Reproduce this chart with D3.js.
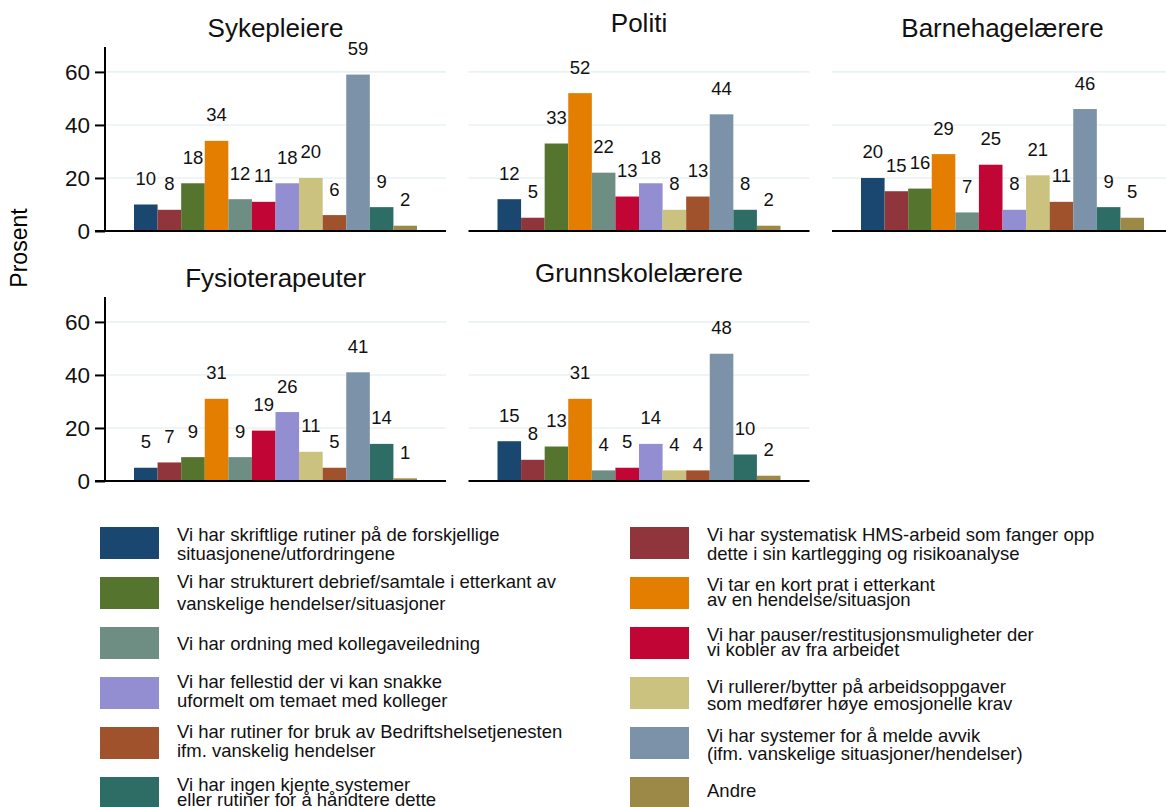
<!DOCTYPE html>
<html>
<head>
<meta charset="utf-8">
<script src="https://cdn.jsdelivr.net/npm/d3@7"></script>
<style>
  body { margin: 0; background: #fff; }
  svg { display: block; font-family: "Liberation Sans", Arial, sans-serif; }
</style>
</head>
<body>
<div id="chart"></div>
<script>
// ---- data ----
const groups = ["Sykepleiere", "Politi", "Barnehagelærere", "Fysioterapeuter", "Grunnskolelærere"];

const sykepleiere      = [10, 8, 18, 34, 12, 11, 18, 20, 6, 59, 9, 2];
const politi           = [12, 5, 33, 52, 22, 13, 18, 8, 13, 44, 8, 2];
const barnehagelaerere = [20, 15, 16, 29, 7, 25, 8, 21, 11, 46, 9, 5];
const fysioterapeuter  = [5, 7, 9, 31, 9, 19, 26, 11, 5, 41, 14, 1];
const grunnskolelaerere = [15, 8, 13, 31, 4, 5, 14, 4, 4, 48, 10, 2];

const categories = [
    ["Vi har skriftlige rutiner på de forskjellige", "situasjonene/utfordringene"],
    ["Vi har systematisk HMS-arbeid som fanger opp", "dette i sin kartlegging og risikoanalyse"],
    ["Vi har strukturert debrief/samtale i etterkant av", "vanskelige hendelser/situasjoner"],
    ["Vi tar en kort prat i etterkant", "av en hendelse/situasjon"],
    ["Vi har ordning med kollegaveiledning"],
    ["Vi har pauser/restitusjonsmuligheter der", "vi kobler av fra arbeidet"],
    ["Vi har fellestid der vi kan snakke", "uformelt om temaet med kolleger"],
    ["Vi rullerer/bytter på arbeidsoppgaver", "som medfører høye emosjonelle krav"],
    ["Vi har rutiner for bruk av Bedriftshelsetjenesten", "ifm. vanskelig hendelser"],
    ["Vi har systemer for å melde avvik", "(ifm. vanskelige situasjoner/hendelser)"],
    ["Vi har ingen kjente systemer", "eller rutiner for å håndtere dette"],
    ["Andre"]
];

const yTicks = [0, 20, 40, 60];

const seriesByGroup = [sykepleiere, politi, barnehagelaerere, fysioterapeuter, grunnskolelaerere];

// ---- style ----
const palette = ["#1a476f", "#90353b", "#55752f", "#e37e00", "#6e8e84", "#c10534",
                 "#938dd2", "#cac27e", "#a0522d", "#7b92a8", "#2d6d66", "#9c8847"];
const color = d3.scaleOrdinal().domain(d3.range(categories.length)).range(palette);

const W = 1166, H = 807;
const panel = { left: 105, pitchX: 363.5, pitchY: 250, width: 341, height: 184, base: 231, inset: 29 };
const yMax = 69.4;
// legend baseline offsets (from swatch top) for each entry's lines
const legendLines = [[14, 33], [14, 33], [10.5, 33], [14, 29], [23], [14, 29],
                     [10.5, 30], [15.5, 33], [11, 30], [15, 33], [14, 29], [19.5]];

const svg = d3.select("#chart").append("svg")
    .attr("width", W).attr("height", H);

// y axis title
svg.append("text")
    .attr("transform", "translate(27,248) rotate(-90)")
    .attr("text-anchor", "middle")
    .attr("font-size", 23)
    .text("Prosent");

groups.forEach((g, gi) => {
    const col = gi % 3, row = Math.floor(gi / 3);
    const x0 = panel.left + col * panel.pitchX;
    const y0 = panel.base + row * panel.pitchY;
    const vals = seriesByGroup[gi];

    const x = d3.scaleBand()
        .domain(d3.range(vals.length))
        .range([x0 + panel.inset, x0 + panel.width - panel.inset])
        .padding(0);
    const y = d3.scaleLinear().domain([0, yMax]).range([y0, y0 - panel.height]);

    const p = svg.append("g");

    // gridlines
    p.selectAll(".grid")
        .data(yTicks)
        .join("line")
        .attr("x1", x0).attr("x2", x0 + panel.width)
        .attr("y1", d => y(d)).attr("y2", d => y(d))
        .attr("stroke", "#eaf2f3")
        .attr("stroke-width", 1.6);

    // bars
    p.selectAll("rect")
        .data(vals)
        .join("rect")
        .attr("x", (d, i) => x(i))
        .attr("width", x.bandwidth())
        .attr("y", d => y(d))
        .attr("height", d => y0 - y(d))
        .attr("fill", (d, i) => color(i));

    // value labels
    p.selectAll(".lbl")
        .data(vals)
        .join("text")
        .attr("x", (d, i) => x(i) + x.bandwidth() / 2)
        .attr("y", d => y(d) - 19.5)
        .attr("text-anchor", "middle")
        .attr("font-size", 18.5)
        .attr("fill", "#111")
        .text(d => d3.format(".0f")(d));

    // baseline
    p.append("line")
        .attr("x1", x0 - (col === 0 ? 10 : 0)).attr("x2", x0 + panel.width)
        .attr("y1", y0).attr("y2", y0)
        .attr("stroke", "#000").attr("stroke-width", 2);

    if (col === 0) {
        const axis = d3.axisLeft(y).tickValues(yTicks).tickSize(10).tickPadding(5);
        const ag = p.append("g")
            .attr("transform", `translate(${x0},0)`)
            .call(axis);
        ag.select(".domain").remove();
        ag.selectAll(".tick line").attr("stroke", "#000").attr("stroke-width", 2);
        ag.selectAll(".tick text")
            .attr("font-size", 22.5)
            .attr("font-family", "Liberation Sans, Arial, sans-serif")
            .attr("fill", "#111");
        p.append("line")
            .attr("x1", x0).attr("x2", x0)
            .attr("y1", y0 + 1).attr("y2", y0 - panel.height)
            .attr("stroke", "#000").attr("stroke-width", 2);
    }

    // panel title
    const hasDesc = /[gjpqy]/.test(g);
    p.append("text")
        .attr("x", x0 + panel.width / 2)
        .attr("y", row * panel.pitchY + (hasDesc ? 37 : 32))
        .attr("text-anchor", "middle")
        .attr("font-size", 26)
        .attr("fill", "#111")
        .text(g);
});

// legend
const legend = svg.append("g");
const item = legend.selectAll("g")
    .data(categories)
    .join("g")
    .attr("transform", (d, i) => `translate(${i % 2 === 0 ? 100 : 630},${527 + Math.floor(i / 2) * 50})`);

item.append("rect")
    .attr("width", 59).attr("height", 32)
    .attr("fill", (d, i) => color(i));

item.each(function (lines, i) {
    d3.select(this).selectAll("text")
        .data(lines)
        .join("text")
        .attr("x", 77)
        .attr("y", (d, j) => legendLines[i][j])
        .attr("font-size", 18.5)
        .attr("fill", "#111")
        .text(d => d);
});
</script>
</body>
</html>
